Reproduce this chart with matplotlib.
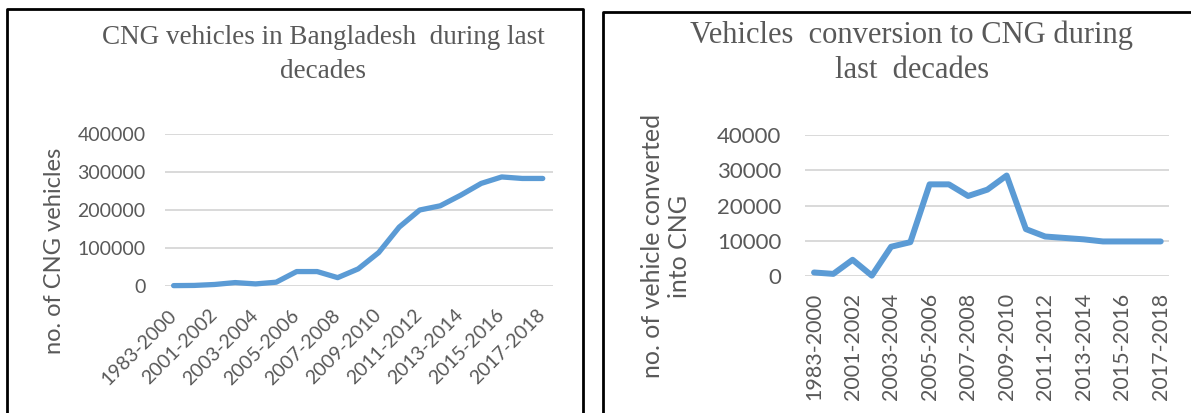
import matplotlib
matplotlib.use("Agg")
import matplotlib.pyplot as plt
from matplotlib.lines import Line2D

# ── Data ────────────────────────────────────────────────────────────────
PERIODS = [
    "1983-2000", "2000-2001", "2001-2002", "2002-2003", "2003-2004",
    "2004-2005", "2005-2006", "2006-2007", "2007-2008", "2008-2009",
    "2009-2010", "2010-2011", "2011-2012", "2012-2013", "2013-2014",
    "2014-2015", "2015-2016", "2016-2017", "2017-2018",
]
CNG_VEHICLES = [
    1000, 1500, 4000, 9000, 5500, 10000, 38000, 38000, 22000, 45000,
    88000, 155000, 200000, 211000, 239000, 270000, 287000, 283000, 283000,
]
CONVERSIONS = [
    1000, 600, 4600, 100, 8300, 9600, 26000, 26000, 22700, 24500,
    28500, 13300, 11200, 10800, 10400, 9800, 9800, 9800, 9800,
]
LEFT_YTICKS = [0, 100000, 200000, 300000, 400000]
RIGHT_YTICKS = [0, 10000, 20000, 30000, 40000]

# ── Style ───────────────────────────────────────────────────────────────
W, H = 1191, 413
LINE_BLUE = "#5B9BD5"
GRID_GREY = "#D9D9D9"
TEXT_GREY = "#595959"
SANS = ["Lato", "DejaVu Sans"]
SERIF = ["Liberation Serif", "DejaVu Serif"]


def rect(x0, y0, x1, y1):
    """Pixel box (top-left origin) -> figure fraction rect."""
    return [x0 / W, 1 - y1 / H, (x1 - x0) / W, (y1 - y0) / H]


def style_axes(ax, yticks, ylim, tick_size, ypad):
    ax.set_ylim(*ylim)
    ax.set_yticks(yticks)
    ax.set_yticklabels([str(v) for v in yticks], family=SANS,
                       fontsize=tick_size, color=TEXT_GREY)
    ax.yaxis.grid(True, color=GRID_GREY, linewidth=1.4)
    ax.set_axisbelow(True)
    for s in ax.spines.values():
        s.set_visible(False)
    ax.tick_params(axis="both", length=0)
    ax.tick_params(axis="y", pad=ypad)


def main():
    fig = plt.figure(figsize=(W / 100, H / 100), dpi=100)
    x = list(range(len(PERIODS)))

    # ── Left chart ──
    ax1 = fig.add_axes(rect(165, 134, 553, 286))
    ax1.plot(x, CNG_VEHICLES, color=LINE_BLUE, linewidth=3.8,
             solid_joinstyle="round", solid_capstyle="round", clip_on=False)
    ax1.set_xlim(-0.42, 18.5)
    style_axes(ax1, LEFT_YTICKS, (0, 400000), 14, 14)
    ax1.set_xticks(x[::2])
    ax1.set_xticklabels(PERIODS[::2], rotation=45, ha="right", va="center",
                        rotation_mode="anchor", family=SANS, fontsize=14,
                        color=TEXT_GREY)
    ax1.tick_params(axis="x", pad=19)
    fig.text(55 / W, 1 - 251 / H, "no. of CNG vehicles", rotation=90,
             ha="center", va="center", family=SANS, fontsize=17,
             color=TEXT_GREY)
    fig.text(323 / W, 1 - 37 / H, "CNG vehicles in Bangladesh  during last",
             ha="center", va="center", family=SERIF, fontsize=19.5,
             color=TEXT_GREY)
    fig.text(323 / W, 1 - 72 / H, "decades", ha="center", va="center",
             family=SERIF, fontsize=19.5, color=TEXT_GREY)

    # ── Right chart ──
    ax2 = fig.add_axes(rect(805, 135, 1169, 276))
    ax2.plot(x, CONVERSIONS, color=LINE_BLUE, linewidth=4.3,
             solid_joinstyle="round", solid_capstyle="round", clip_on=False)
    ax2.set_xlim(-0.47, 18.43)
    style_axes(ax2, RIGHT_YTICKS, (0, 40000), 16, 17)
    ax2.set_xticks(x[::2])
    ax2.set_xticklabels(PERIODS[::2], rotation=90, ha="center", va="top",
                        family=SANS, fontsize=15.5, color=TEXT_GREY)
    ax2.tick_params(axis="x", pad=12)
    fig.text(666 / W, 1 - 246 / H, "no. of vehicle converted\ninto CNG",
             rotation=90, ha="center", va="center", family=SANS, fontsize=18,
             color=TEXT_GREY, linespacing=1.25, multialignment="center")
    fig.text(912 / W, 1 - 35 / H, "Vehicles  conversion to CNG during",
             ha="center", va="center", family=SERIF, fontsize=22,
             color=TEXT_GREY)
    fig.text(912 / W, 1 - 70 / H, "last  decades", ha="center", va="center",
             family=SERIF, fontsize=22, color=TEXT_GREY)

    # ── Panel borders (open at the bottom, as cropped in the source) ──
    border = dict(color="black", linewidth=2.0, transform=fig.transFigure,
                  solid_capstyle="projecting")
    fig.add_artist(Line2D([7 / W, 7 / W, 583 / W, 583 / W],
                          [-0.05, 1 - 9 / H, 1 - 9 / H, -0.05], **border))
    fig.add_artist(Line2D([603 / W, 603 / W, 1.05],
                          [-0.05, 1 - 12 / H, 1 - 12 / H], **border))

    fig.savefig("out.png", dpi=100, facecolor="white")
    plt.close(fig)


if __name__ == "__main__":
    main()
